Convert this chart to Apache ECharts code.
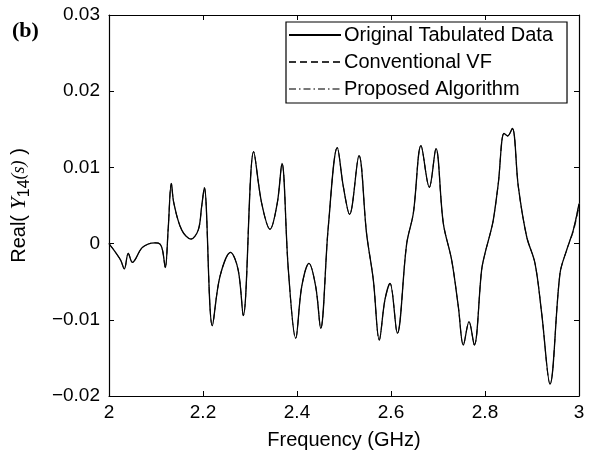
<!DOCTYPE html>
<html><head><meta charset="utf-8">
<script src="https://cdn.jsdelivr.net/npm/echarts@6/dist/echarts.min.js"></script>
<style>html,body{margin:0;padding:0;background:#fff}#c{width:590px;height:456px}</style>
</head><body><div id="c"></div>
<script>
const freq = [2.000,2.0128,2.025,2.0326,2.041,2.0496,2.0695,2.0837,2.0979,2.1085,2.114,2.1198,2.126,2.1326,2.138,2.1546,2.1745,2.19,2.197,2.2028,2.2198,2.236,2.2587,2.275,2.2857,2.3078,2.3248,2.3426,2.358,2.368,2.3816,2.3972,2.41,2.4255,2.44,2.4504,2.4666,2.4857,2.4985,2.5119,2.5319,2.548,2.5624,2.575,2.587,2.5979,2.6134,2.6334,2.6475,2.6638,2.6815,2.6957,2.7113,2.729,2.7433,2.7539,2.766,2.7772,2.7928,2.8,2.8106,2.8177,2.8283,2.8404,2.8482,2.8581,2.8709,2.8887,2.9064,2.9206,2.9383,2.9596,2.9738,2.988,3.0];
const original = [0.0000,-0.00106,-0.0022,-0.00333,-0.00128,-0.00246,-0.0006,-0.00005,0.0001,-0.00005,-0.0009,-0.00316,0.002,0.00791,0.0053,0.0018,0.0006,0.0018,0.0048,0.00734,-0.01077,-0.00434,-0.00115,-0.0035,-0.00946,0.01206,0.0053,0.00188,0.0053,0.01054,-0.00346,-0.01243,-0.00565,-0.00259,-0.0057,-0.01112,0.00222,0.01259,0.0075,0.00384,0.01154,0.00135,-0.00478,-0.01265,-0.0074,-0.00521,-0.01177,0.0000,0.00398,0.01285,0.00739,0.01246,0.00266,-0.00215,-0.0083,-0.01331,-0.01025,-0.01331,-0.00346,-0.00128,0.0012,0.0031,0.0079,0.01447,0.01412,0.01513,0.00747,0.0009,-0.00259,-0.00915,-0.01843,-0.0039,-0.00084,0.0018,0.0052];
const conventionalVF = [0.0000,-0.00106,-0.0022,-0.00333,-0.00128,-0.00246,-0.0006,-0.00005,0.0001,-0.00005,-0.0009,-0.00316,0.002,0.00791,0.0053,0.0018,0.0006,0.0018,0.0048,0.00734,-0.01077,-0.00434,-0.00115,-0.0035,-0.00946,0.01206,0.0053,0.00188,0.0053,0.01054,-0.00346,-0.01243,-0.00565,-0.00259,-0.0057,-0.01112,0.00222,0.01259,0.0075,0.00384,0.01154,0.00135,-0.00478,-0.01265,-0.0074,-0.00521,-0.01177,0.0000,0.00398,0.01285,0.00739,0.01246,0.00266,-0.00215,-0.0083,-0.01331,-0.01025,-0.01331,-0.00346,-0.00128,0.0012,0.0031,0.0079,0.01447,0.01412,0.01513,0.00747,0.0009,-0.00259,-0.00915,-0.01843,-0.0039,-0.00084,0.0016,0.0048];
const proposed = [0.0000,-0.00106,-0.0022,-0.00333,-0.00128,-0.00246,-0.0006,-0.00005,0.0001,-0.00005,-0.0009,-0.00316,0.002,0.00791,0.0053,0.0018,0.0006,0.0018,0.0048,0.00734,-0.01077,-0.00434,-0.00115,-0.0035,-0.00946,0.01206,0.0053,0.00188,0.0053,0.01054,-0.00346,-0.01243,-0.00565,-0.00259,-0.0057,-0.01112,0.00222,0.01259,0.0075,0.00384,0.01154,0.00135,-0.00478,-0.01265,-0.0074,-0.00521,-0.01177,0.0000,0.00398,0.01285,0.00739,0.01246,0.00266,-0.00215,-0.0083,-0.01331,-0.01025,-0.01331,-0.00346,-0.00128,0.0012,0.0031,0.0079,0.01447,0.01412,0.01513,0.00747,0.0009,-0.00259,-0.00915,-0.01843,-0.0039,-0.00084,0.0019,0.0053];
const seriesNames = ['Original Tabulated Data','Conventional VF','Proposed Algorithm'];
const xTickLabels = ['2','2.2','2.4','2.6','2.8','3'];
const yTickLabels = ['\u22120.02','\u22120.01','0','0.01','0.02','0.03'];

const pair = arr => freq.map((f,i)=>[f,arr[i]]);
const font = 'Liberation Sans, Arial, sans-serif';
const chart = echarts.init(document.getElementById('c'), null, {renderer:'canvas'});
const xLab = v => { const i = Math.round((v-2)/0.2); return xTickLabels[i] ?? ''; };
const yLab = v => { const i = Math.round((v+0.02)/0.01); return yTickLabels[i] ?? ''; };
const axisCommon = {
  axisLine:{show:true,onZero:false,lineStyle:{color:'#000',width:1.2}},
  axisTick:{show:true,inside:true,length:5,lineStyle:{color:'#000',width:1}},
  splitLine:{show:false}
};
const hidden = {color:'rgba(0,0,0,0)',borderColor:'rgba(0,0,0,0)',borderWidth:0,opacity:0};
chart.setOption({
  animation:false,
  backgroundColor:'#fff',
  graphic:[{type:'text',left:12,top:20,style:{text:'(b)',font:'bold 22px "Liberation Serif", "Times New Roman", serif',fill:'#000'}}],
  grid:{left:109,right:11,top:15,bottom:60,containLabel:false},
  legend:{
    orient:'vertical',left:286,top:22,
    backgroundColor:'#fff',borderColor:'#000',borderWidth:1.2,borderRadius:0,
    padding:[3,14,4,2],itemGap:7,itemWidth:52,itemHeight:14,
    itemStyle:hidden,
    textStyle:{fontFamily:font,fontSize:20,color:'#000',padding:[0,0,0,-2]},
    data:seriesNames.map(n=>({name:n,itemStyle:hidden}))
  },
  xAxis:[
    Object.assign({type:'value',min:2,max:3,interval:0.2,position:'bottom',
      name:'Frequency (GHz)',nameLocation:'middle',nameGap:34,
      nameTextStyle:{fontFamily:font,fontSize:20,color:'#000'},
      axisLabel:{formatter:xLab,fontFamily:font,fontSize:19,color:'#000',margin:7}},axisCommon),
    Object.assign({type:'value',min:2,max:3,interval:0.2,position:'top',axisLabel:{show:false}},axisCommon)
  ],
  yAxis:[
    Object.assign({type:'value',min:-0.02,max:0.03,interval:0.01,position:'left',
      name:'Real( {i|Y}{sub|14}{it|(s)} )',nameLocation:'middle',nameGap:76,
      nameTextStyle:{fontFamily:font,fontSize:20,color:'#000',
        rich:{i:{fontFamily:'"Liberation Serif", serif',fontStyle:'italic',fontSize:22,color:'#000'},
              sub:{fontFamily:font,fontSize:16,color:'#000',padding:[12,0,0,0]},
              it:{fontFamily:'"Liberation Serif", serif',fontStyle:'italic',fontSize:18,color:'#000'}}},
      axisLabel:{formatter:yLab,fontFamily:font,fontSize:19,color:'#000',margin:9}},axisCommon),
    Object.assign({type:'value',min:-0.02,max:0.03,interval:0.01,position:'right',axisLabel:{show:false}},axisCommon)
  ],
  series:[
    {name:seriesNames[0],type:'line',data:pair(original),showSymbol:false,symbol:'none',smooth:0.35,
      lineStyle:{color:'#000',width:1.3,type:'solid'},itemStyle:{color:'#000'},z:3},
    {name:seriesNames[1],type:'line',data:pair(conventionalVF),showSymbol:false,symbol:'none',smooth:0.35,
      lineStyle:{color:'#333',width:1,type:[7,4]},itemStyle:{color:'#333'},z:2},
    {name:seriesNames[2],type:'line',data:pair(proposed),showSymbol:false,symbol:'none',smooth:0.35,
      lineStyle:{color:'#777',width:1,type:[7,3,1.5,3]},itemStyle:{color:'#777'},z:1}
  ]
});
</script></body></html>
